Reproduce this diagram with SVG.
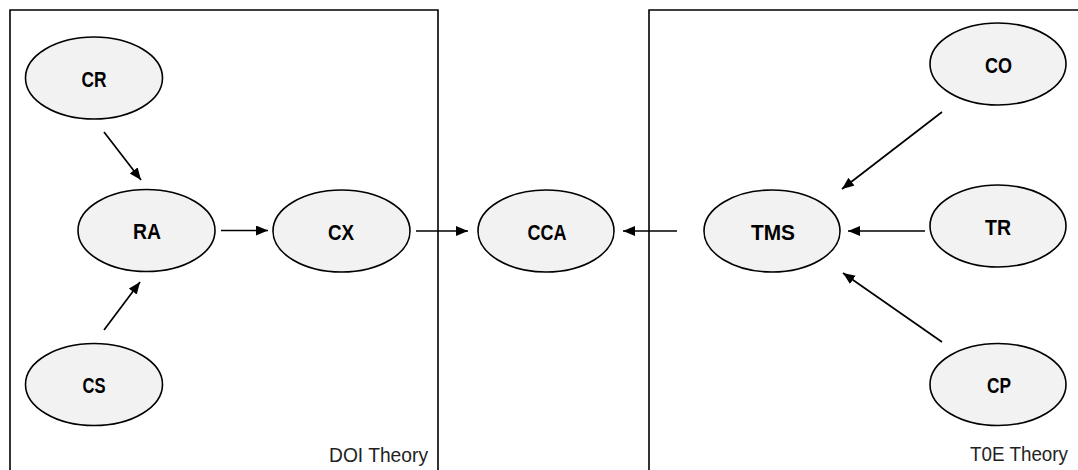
<svg xmlns="http://www.w3.org/2000/svg" width="1078" height="470" viewBox="0 0 1078 470">
<style>
.frame{fill:none;stroke:#000;stroke-width:1.6}
.node ellipse{fill:#f2f2f2;stroke:#000;stroke-width:1.6}
.node text{font-family:"Liberation Sans",Arial,sans-serif;font-weight:bold;font-size:22.5px;text-anchor:middle;fill:#000}
.lbl{font-family:"Liberation Sans",Arial,sans-serif;font-size:21px;fill:#222}
.conn line{stroke:#000;stroke-width:1.7;marker-end:url(#ah)}
</style>
<defs>
<marker id="ah" markerUnits="userSpaceOnUse" markerWidth="13" markerHeight="11" refX="12" refY="5" orient="auto">
<path d="M0,0 L12,5 L0,10 z" fill="#000"/>
</marker>
</defs>
<rect width="1078" height="470" fill="#fff"/>
<g id="doi-box">
<path class="frame" d="M10,475 V10 H438 V475"/>
<text class="lbl" x="329" y="462" textLength="99" lengthAdjust="spacingAndGlyphs">DOI Theory</text>
</g>
<g id="toe-box">
<path class="frame" d="M649,475 V10 H1080"/>
<text class="lbl" x="970" y="461" textLength="98" lengthAdjust="spacingAndGlyphs">T0E Theory</text>
</g>
<g id="CR" class="node"><ellipse cx="94" cy="78" rx="68.5" ry="41"/><text x="94" y="86.5" textLength="25" lengthAdjust="spacingAndGlyphs">CR</text></g>
<g id="RA" class="node"><ellipse cx="146.5" cy="230.5" rx="68.5" ry="41"/><text x="147" y="238.5" textLength="28" lengthAdjust="spacingAndGlyphs">RA</text></g>
<g id="CX" class="node"><ellipse cx="341.5" cy="231" rx="68.5" ry="41"/><text x="341" y="239.5" textLength="26" lengthAdjust="spacingAndGlyphs">CX</text></g>
<g id="CS" class="node"><ellipse cx="94" cy="384.5" rx="68.5" ry="41"/><text x="94" y="393" textLength="23" lengthAdjust="spacingAndGlyphs">CS</text></g>
<g id="CCA" class="node"><ellipse cx="546" cy="231" rx="68" ry="41"/><text x="547" y="239.5" textLength="39" lengthAdjust="spacingAndGlyphs">CCA</text></g>
<g id="TMS" class="node"><ellipse cx="772" cy="231" rx="68" ry="41"/><text x="773" y="239.5" textLength="44" lengthAdjust="spacingAndGlyphs">TMS</text></g>
<g id="CO" class="node"><ellipse cx="998" cy="64" rx="68" ry="41"/><text x="998.5" y="72.5" textLength="27" lengthAdjust="spacingAndGlyphs">CO</text></g>
<g id="TR" class="node"><ellipse cx="998" cy="226" rx="68" ry="41"/><text x="998" y="234.5" textLength="26" lengthAdjust="spacingAndGlyphs">TR</text></g>
<g id="CP" class="node"><ellipse cx="998" cy="384.5" rx="68" ry="41"/><text x="999" y="393" textLength="24" lengthAdjust="spacingAndGlyphs">CP</text></g>
<g id="connectors" class="conn">
<line x1="104" y1="132" x2="141" y2="180"/>
<line x1="104" y1="330" x2="140" y2="282"/>
<line x1="221" y1="230.5" x2="268" y2="230.5"/>
<line x1="416" y1="231" x2="468" y2="231"/>
<line x1="677" y1="231" x2="623" y2="231"/>
<line x1="942" y1="112" x2="842" y2="189"/>
<line x1="925" y1="231" x2="848" y2="231"/>
<line x1="942" y1="342" x2="843" y2="273"/>
</g>
</svg>
